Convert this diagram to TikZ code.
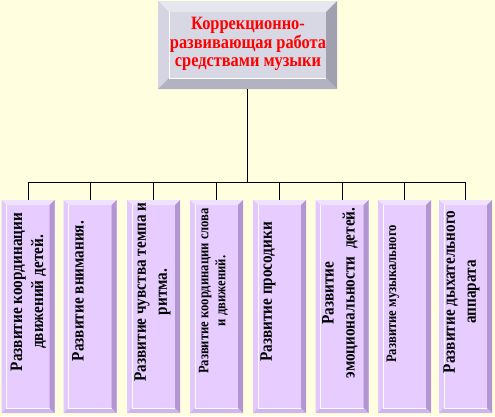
\documentclass[tikz,border=0pt]{standalone}
\usepackage{fontspec}
\setmainfont{Liberation Serif}
\newfontfamily\condserif[FakeStretch=0.87]{Liberation Serif}
\definecolor{bg}{RGB}{255,255,224}
\definecolor{pface}{RGB}{230,204,255}
\definecolor{ptop}{RGB}{240,226,255}
\definecolor{pleft}{RGB}{226,200,252}
\definecolor{pright}{RGB}{178,150,210}
\definecolor{pbot}{RGB}{208,180,240}
\definecolor{gface}{RGB}{216,216,228}
\definecolor{gtop}{RGB}{230,230,238}
\definecolor{gleft}{RGB}{212,212,226}
\definecolor{gright}{RGB}{160,160,176}
\definecolor{gbot}{RGB}{178,178,192}
\newcommand\bevbox[6]{%
  \fill[#6face] (#1,#2) rectangle (#3,#4);
  \fill[#6top] (#1,#2) -- (#3,#2) -- ({#3-#5},{#2+#5}) -- ({#1+#5},{#2+#5}) -- cycle;
  \fill[#6left] (#1,#2) -- ({#1+#5},{#2+#5}) -- ({#1+#5},{#4-#5}) -- (#1,#4) -- cycle;
  \fill[#6right] (#3,#2) -- (#3,#4) -- ({#3-#5},{#4-#5}) -- ({#3-#5},{#2+#5}) -- cycle;
  \fill[#6bot] (#1,#4) -- (#3,#4) -- ({#3-#5},{#4-#5}) -- ({#1+#5},{#4-#5}) -- cycle;
  \draw[white,line width=0.8pt] ({#1+#5},{#2+#5}) -- ({#1+#5},{#4-#5}) -- ({#3-#5},{#4-#5});
}
\newcommand\lowbox[1]{\bevbox{#1-26.5}{200}{#1+26.5}{413}{5}{p}}
\tikzset{
  slot/.style={minimum width=53pt,minimum height=213pt,inner sep=0pt},
  vtext/.style={rotate=90,align=center,inner sep=0pt,font=\condserif\bfseries\fontsize{17.5}{21}\selectfont},
  vsmall/.style={rotate=90,align=center,inner sep=0pt,font=\condserif\bfseries\fontsize{14.5}{17}\selectfont},
  conn/.style={draw=black,line width=0.9pt},
}
\begin{document}
\begin{tikzpicture}[x=1pt,y=-1pt]
\fill[bg] (0,0) rectangle (495,416);
\useasboundingbox (0,0) rectangle (495,416);
% top box
\bevbox{158}{1}{337}{89}{11}{g}
\node[minimum width=179pt,minimum height=88pt,inner sep=0pt] (top) at (247.5,45) {};
\node[align=center,text=red,font=\condserif\bfseries\fontsize{18.8}{18.5}\selectfont] (toptext) at (248,44)
  {Коррекционно-\\развивающая работа\\средствами музыки};
% lower boxes
\foreach \x [count=\i] in {28,90,153.5,216.5,279.5,342,404.5,465.5}{
  \lowbox{\x}
  \node[slot] (b\i) at (\x,306.5) {};
}
\coordinate (hub) at (247.5,182);
\draw[conn] (top.south) -- (hub);
\draw[conn] (b1.north) |- (b8.north |- hub) -- (b8.north);
\foreach \i in {2,...,7}{
  \draw[conn] (b\i.north) -- (b\i.north |- hub);
}
% texts
\node[vtext] (t1) at (28.5,292) {Развитие координации\\движений детей.};
\node[vtext] (t2) at (78,291) {Развитие внимания.};
\node[vtext] (t3) at (152.5,292) {Развитие чувства темпа и\\ритма.};
\node[vsmall] (t4) at (213.5,291) {Развитие координации слова\\и движений.};
\node[vtext] (t5) at (268,292) {Развитие просодики};
\node[vtext] (t6) at (340,293) {Развитие\\эмоциональности\ \ детей.};
\node[vsmall] (t7) at (393,294) {Развитие музыкального};
\node[vtext] (t8) at (461.5,292) {Развитие дыхательного\\аппарата};
\end{tikzpicture}
\end{document}
